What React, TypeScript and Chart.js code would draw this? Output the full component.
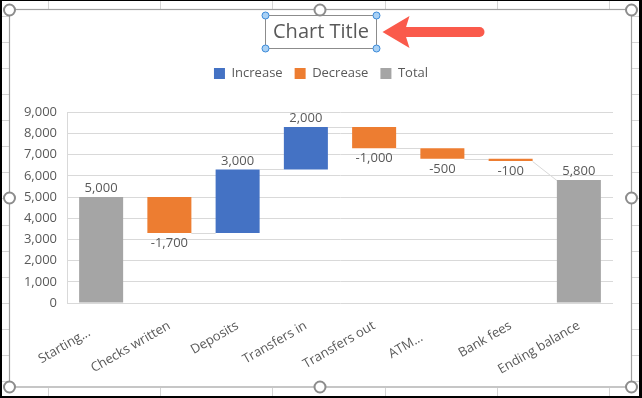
import React, { useEffect, useRef } from 'react';
import { Chart, registerables } from 'chart.js';

Chart.register(...registerables);

// ---- Data ----
const categories = ['Starting...', 'Checks written', 'Deposits', 'Transfers in', 'Transfers out', 'ATM...', 'Bank fees', 'Ending balance'];
const changes = [5000, -1700, 3000, 2000, -1000, -500, -100, 5800];
const kinds = ['total', 'decrease', 'increase', 'increase', 'decrease', 'decrease', 'decrease', 'total'];
const seriesNames = ['Increase', 'Decrease', 'Total'];
const seriesKinds = ['increase', 'decrease', 'total'];
const seriesColors = ['#4472C4', '#ED7D31', '#A5A5A5'];
const yMin = 0;
const yMax = 9000;
const yStep = 1000;
const titleText = 'Chart Title';

const TEXT = '#595959';
const GRID = '#D9D9D9';
const FONT = "'Open Sans', 'Noto Sans', sans-serif";

function buildRanges(): number[][] {
  let running = 0;
  return changes.map((v, i) => {
    if (kinds[i] === 'total') {
      running = v;
      return [0, v];
    }
    const start = running;
    running += v;
    return [start, running];
  });
}

function fmt(v: number): string {
  return v.toLocaleString('en-US');
}

export default function App() {
  const ref = useRef<HTMLCanvasElement>(null);

  useEffect(() => {
    const canvas = ref.current;
    if (!canvas) return;
    const ranges = buildRanges();

    const datasets = seriesKinds.map((k, s) => ({
      label: seriesNames[s],
      backgroundColor: seriesColors[s],
      borderWidth: 0,
      data: ranges.map((r, i) => (kinds[i] === k ? r : null)),
      yAxisID: 'y',
    }));

    const elementFor = (chart: any, i: number) => {
      const s = seriesKinds.indexOf(kinds[i]);
      return chart.getDatasetMeta(s).data[i];
    };

    const decorations = {
      id: 'decorations',
      beforeDraw(chart: any) {
        const ctx = chart.ctx;
        ctx.save();
        ctx.fillStyle = '#ffffff';
        ctx.fillRect(0, 0, chart.width, chart.height);
        // spreadsheet grid outside chart frame
        ctx.strokeStyle = '#D4D4D4';
        ctx.lineWidth = 1;
        const rows = [16, 42, 68, 94, 120, 146, 172, 198, 225, 251, 277, 303, 329, 355, 381];
        const cols = [48, 160, 272, 385, 497, 609];
        ctx.beginPath();
        rows.forEach((y) => {
          ctx.moveTo(0, y + 0.5); ctx.lineTo(9, y + 0.5);
          ctx.moveTo(632, y + 0.5); ctx.lineTo(642, y + 0.5);
        });
        cols.forEach((x) => {
          ctx.moveTo(x + 0.5, 0); ctx.lineTo(x + 0.5, 9);
          ctx.moveTo(x + 0.5, 388); ctx.lineTo(x + 0.5, 398);
        });
        ctx.stroke();
        // black outer border
        ctx.fillStyle = '#000000';
        ctx.fillRect(0, 0, 2, 398);
        ctx.fillRect(0, 0, 642, 1);
        ctx.fillRect(639, 0, 3, 398);
        ctx.fillRect(0, 396, 642, 2);
        // chart frame
        ctx.strokeStyle = '#A0A0A0';
        ctx.lineWidth = 1.2;
        ctx.strokeRect(9.5, 9.5, 622, 377.5);
        ctx.restore();
      },
      beforeDatasetsDraw(chart: any) {
        const ctx = chart.ctx;
        const y = chart.scales.y;
        ctx.save();
        ctx.strokeStyle = GRID;
        ctx.lineWidth = 1;
        for (let i = 0; i < categories.length - 1; i++) {
          const a = elementFor(chart, i);
          const b = elementFor(chart, i + 1);
          const endLevel = kinds[i] === 'total' ? changes[i] : ranges[i][1];
          const startLevel = kinds[i + 1] === 'total' ? changes[i + 1] : ranges[i + 1][0];
          const y1 = Math.round(y.getPixelForValue(endLevel)) + 0.5;
          const y2 = Math.round(y.getPixelForValue(startLevel)) + 0.5;
          ctx.beginPath();
          ctx.moveTo(a.x + a.width / 2, y1);
          ctx.lineTo(b.x - b.width / 2, y2);
          ctx.stroke();
        }
        ctx.restore();
      },
      afterDatasetsDraw(chart: any) {
        const ctx = chart.ctx;
        const y = chart.scales.y;
        ctx.save();
        ctx.font = `13px ${FONT}`;
        ctx.fillStyle = TEXT;
        ctx.textAlign = 'center';
        for (let i = 0; i < categories.length; i++) {
          const el = elementFor(chart, i);
          const hi = Math.max(ranges[i][0], ranges[i][1]);
          const lo = Math.min(ranges[i][0], ranges[i][1]);
          const text = fmt(changes[i]);
          if (kinds[i] === 'decrease') {
            ctx.textBaseline = 'top';
            ctx.fillText(text, el.x, y.getPixelForValue(lo) + 4);
          } else {
            ctx.textBaseline = 'bottom';
            ctx.fillText(text, el.x, y.getPixelForValue(hi) - 2);
          }
        }
        ctx.restore();
      },
      afterDraw(chart: any) {
        const ctx = chart.ctx;
        ctx.save();
        // frame handles
        const handle = (x: number, yy: number) => {
          ctx.beginPath();
          ctx.arc(x, yy, 5.5, 0, Math.PI * 2);
          ctx.fillStyle = '#ffffff';
          ctx.fill();
          ctx.lineWidth = 2;
          ctx.strokeStyle = '#8C8C8C';
          ctx.stroke();
        };
        [[9.5, 10], [320, 10], [631.5, 10], [9.5, 198], [631.5, 198], [9.5, 387], [320, 387], [631.5, 387]].forEach(
          ([x, yy]) => handle(x, yy)
        );
        // title selection box
        const tb = chart.titleBlock;
        const tOpts = chart.options.plugins.title;
        ctx.font = `${tOpts.font.size}px ${FONT}`;
        const tw = ctx.measureText(titleText).width;
        const cx = (tb.left + tb.right) / 2;
        const cy = tb.top + tOpts.padding.top + (tOpts.font.size * 1.2) / 2;
        const bx1 = Math.round(cx - tw / 2 - 8) + 0.5;
        const bx2 = Math.round(cx + tw / 2 + 7) + 0.5;
        const by1 = Math.round(cy - 17) + 0.5;
        const by2 = Math.round(cy + 16) + 0.5;
        ctx.strokeStyle = '#8C8C8C';
        ctx.lineWidth = 1;
        ctx.strokeRect(bx1, by1, bx2 - bx1, by2 - by1);
        [[bx1, by1], [bx2, by1], [bx1, by2], [bx2, by2]].forEach(([x, yy]) => {
          ctx.beginPath();
          ctx.arc(x, yy, 3.5, 0, Math.PI * 2);
          ctx.fillStyle = '#A9D1F5';
          ctx.fill();
          ctx.lineWidth = 1;
          ctx.strokeStyle = '#3C8BD9';
          ctx.stroke();
        });
        // red arrow
        const tipX = bx2 + 6;
        const ay = cy;
        ctx.fillStyle = '#FA5A4B';
        ctx.strokeStyle = '#FA5A4B';
        ctx.lineCap = 'round';
        ctx.lineWidth = 10;
        ctx.beginPath();
        ctx.moveTo(tipX + 20, ay);
        ctx.lineTo(tipX + 97, ay);
        ctx.stroke();
        ctx.beginPath();
        ctx.moveTo(tipX, ay);
        ctx.lineTo(tipX + 27, ay - 16);
        ctx.lineTo(tipX + 22, ay);
        ctx.lineTo(tipX + 27, ay + 16);
        ctx.closePath();
        ctx.fill();
        ctx.restore();
      },
    };

    const chart = new Chart(canvas, {
      type: 'bar',
      data: { labels: categories, datasets: datasets as any },
      options: {
        animation: false,
        responsive: false,
        devicePixelRatio: 1,
        events: [],
        layout: { padding: { left: 20, right: 20, top: 10, bottom: 0 } },
        datasets: {
          bar: { grouped: false, categoryPercentage: 1, barPercentage: 0.645 } as any,
        },
        plugins: {
          title: {
            display: true,
            text: titleText,
            color: TEXT,
            font: { family: FONT, size: 20, weight: 'normal' },
            padding: { top: 10, bottom: 11 },
          },
          subtitle: {
            display: true,
            text: ' ',
            weight: 500,
            font: { family: FONT, size: 1 },
            padding: { top: 21, bottom: 0 },
          } as any,
          legend: {
            display: true,
            position: 'top',
            labels: {
              color: TEXT,
              font: { family: FONT, size: 13 },
              boxWidth: 11,
              boxHeight: 11,
              padding: 12,
            },
          },
          tooltip: { enabled: false },
        },
        scales: {
          x: {
            grid: { display: false, drawTicks: false },
            border: { display: false },
            ticks: {
              color: TEXT,
              font: { family: FONT, size: 13 },
              minRotation: 30,
              maxRotation: 30,
              autoSkip: false,
              padding: 15,
              // truncated (ellipsis) labels sit further from their tick, as in the source
              callback: (_v: any, i: number) => {
                const c = categories[i];
                if (!c.endsWith('...')) return c;
                return c + '\u00A0'.repeat(c.length > 6 ? 4 : 7);
              },
            },
            afterFit: (s: any) => { s.height = 95; },
          },
          y: {
            min: yMin,
            max: yMax,
            grid: { color: GRID, drawTicks: false },
            border: { display: true, color: GRID },
            ticks: {
              stepSize: yStep,
              color: TEXT,
              font: { family: FONT, size: 13 },
              padding: 10,
            },
            afterFit: (s: any) => { s.width = 47; },
          },
          yR: {
            type: 'linear',
            position: 'right',
            display: true,
            grid: { display: false, drawTicks: false },
            border: { display: false },
            ticks: { display: false },
            afterFit: (s: any) => { s.width = 9; },
          },
        },
      },
      plugins: [decorations],
    });

    return () => chart.destroy();
  }, []);

  return (
    <div style={{ position: 'absolute', left: 0, top: 0, width: 642, height: 398 }}>
      <canvas ref={ref} width={642} height={398} style={{ display: 'block', width: 642, height: 398 }} />
    </div>
  );
}
